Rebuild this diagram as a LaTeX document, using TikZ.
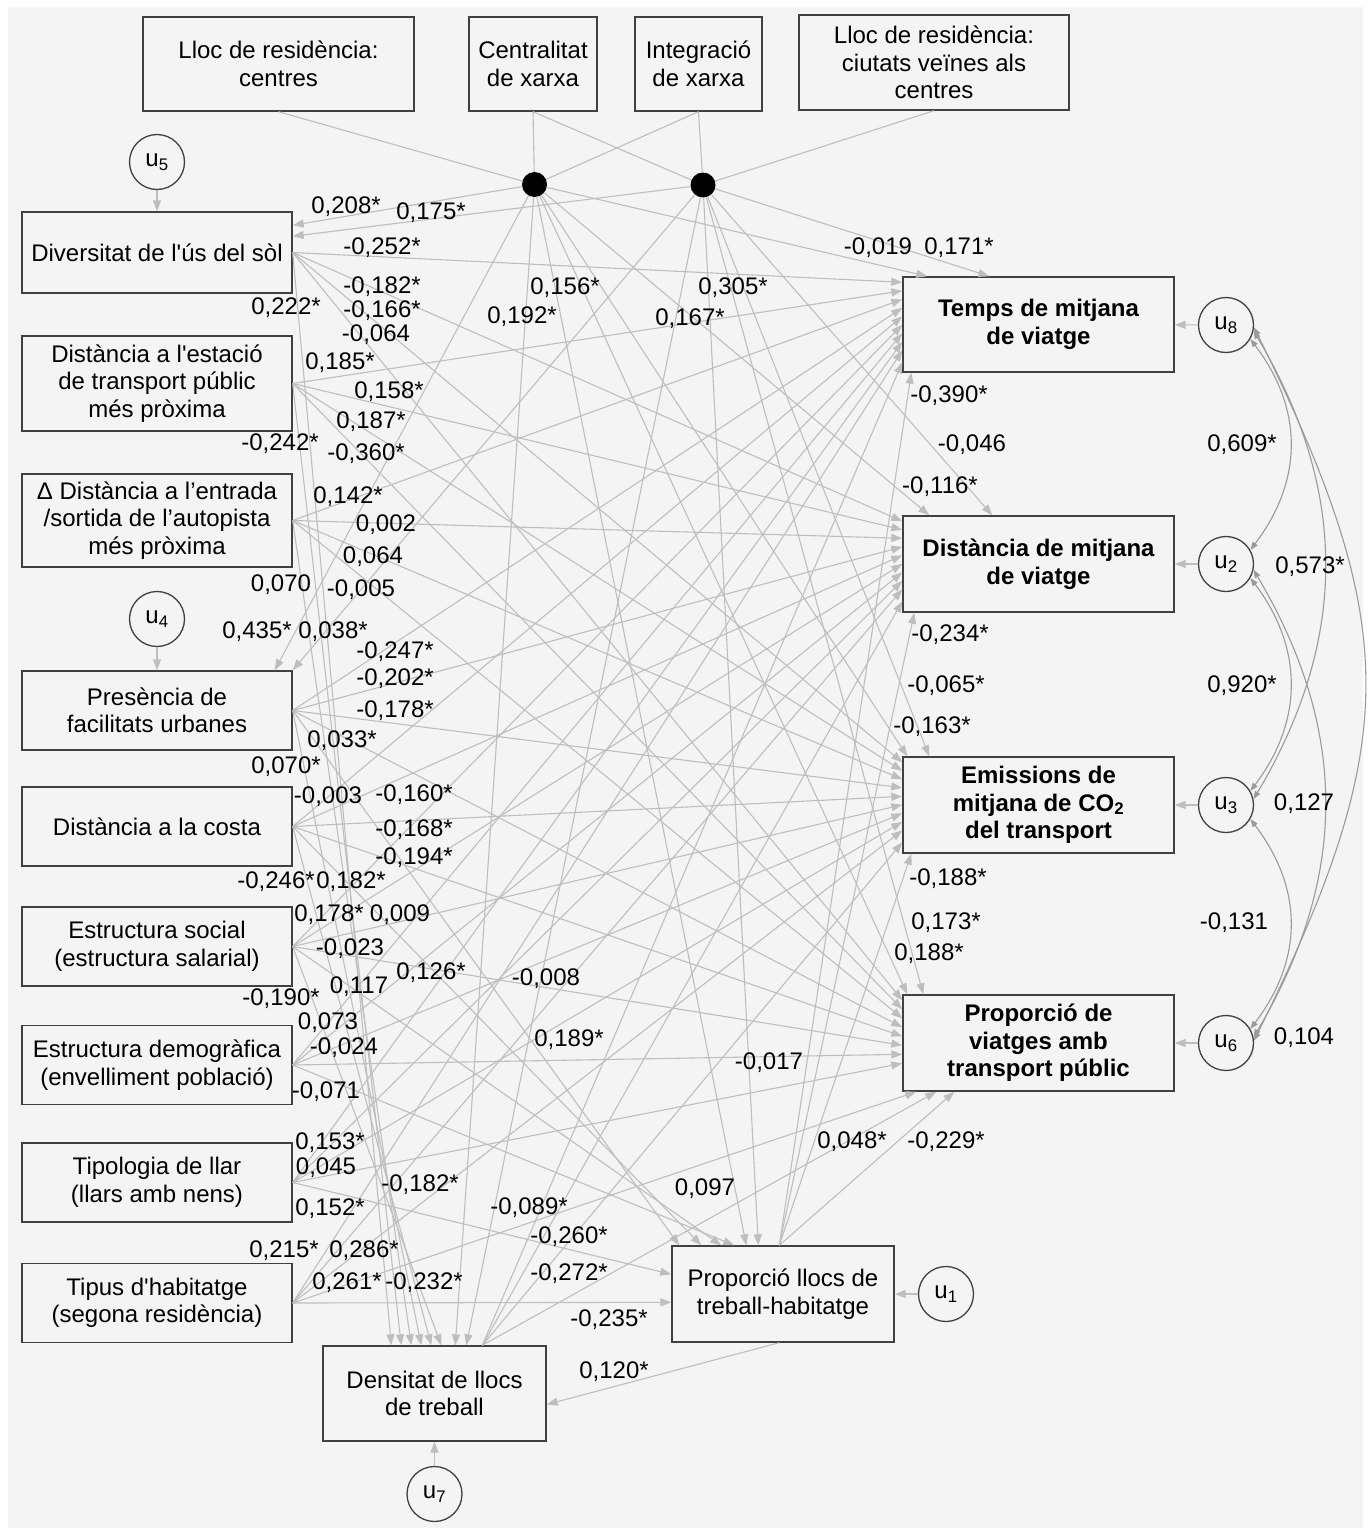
\documentclass[tikz,border=0pt]{standalone}
\usepackage{fontspec}
\setmainfont{Liberation Sans}[Ligatures=TeXOff]
\usetikzlibrary{arrows.meta,calc,shapes.geometric}
\definecolor{bgc}{HTML}{F4F4F4}
\definecolor{edgec}{HTML}{BEBEBE}
\definecolor{boxc}{HTML}{404040}
\definecolor{covc}{HTML}{9A9A9A}
\begin{document}
\begin{tikzpicture}[x=1pt,y=-1pt,
  every node/.style={font=\fontsize{24}{27.5}\selectfont},
  box/.style={draw=boxc,line width=1.4pt,inner sep=0pt,align=center},
  bbox/.style={box,font=\fontsize{24}{27.5}\selectfont\bfseries},
  ucirc/.style={circle,draw=boxc,line width=1.3pt,minimum size=55pt,inner sep=0pt},
  dotn/.style={circle,fill=black,minimum size=25pt,inner sep=0pt},
  plain/.style={draw=edgec,line width=1.1pt},
  link/.style={draw=edgec,line width=1.1pt,-{Triangle[length=11pt,width=8pt]}},
  cov/.style={draw=covc,line width=1.1pt,{Triangle[length=8pt,width=6pt]}-{Triangle[length=8pt,width=6pt]}},
  lab/.style={inner sep=0pt}]
\fill[white] (0,0) rectangle (1369,1528);
\fill[bgc] (8,7) rectangle (1363,1528);
\useasboundingbox (0,0) rectangle (1369,1528);

% top boxes
\node[box,minimum width=271pt,minimum height=94pt] (top1) at (278.5,64) {Lloc de residència:\\centres};
\node[box,minimum width=128pt,minimum height=94pt] (top2) at (533,64) {Centralitat\\de xarxa};
\node[box,minimum width=127pt,minimum height=94pt] (top3) at (698.5,64) {Integració\\de xarxa};
\node[box,minimum width=270pt,minimum height=95pt] (top4) at (934,62.5) {Lloc de residència:\\ciutats veïnes als\\centres};
\node[dotn] (d1) at (534.5,184.5) {};
\node[dotn] (d2) at (703,185) {};

% left column
\node[ucirc] (u5) at (157,162) {u\textsubscript{5}};
\node[box,minimum width=270pt,minimum height=81pt] (div) at (157,252.5) {Diversitat de l'ús del sòl};
\node[box,minimum width=270pt,minimum height=95pt] (est) at (157,383.5) {Distància a l'estació\\de transport públic\\més pròxima};
\node[box,minimum width=270pt,minimum height=93pt] (aut) at (157,520.5) {Δ Distància a l’entrada\\/sortida de l’autopista\\més pròxima};
\node[ucirc] (u4) at (157,619) {u\textsubscript{4}};
\node[box,minimum width=270pt,minimum height=79pt] (pres) at (157,710.5) {Presència de\\facilitats urbanes};
\node[box,minimum width=270pt,minimum height=79pt] (cost) at (157,826.5) {Distància a la costa};
\node[box,minimum width=270pt,minimum height=79pt] (soc) at (157,946.5) {Estructura social\\(estructura salarial)};
\node[box,minimum width=270pt,minimum height=79pt] (dem) at (157,1065) {Estructura demogràfica\\(envelliment població)};
\node[box,minimum width=270pt,minimum height=79pt] (tip) at (157,1182.5) {Tipologia de llar\\(llars amb nens)};
\node[box,minimum width=270pt,minimum height=79pt] (hab) at (157,1303) {Tipus d'habitatge\\(segona residència)};

% bottom
\node[box,minimum width=223pt,minimum height=95pt] (dens) at (434.5,1393.5) {Densitat de llocs\\de treball};
\node[ucirc] (u7) at (434.5,1494) {u\textsubscript{7}};
\node[box,minimum width=222pt,minimum height=96pt] (pl) at (783,1294) {Proporció llocs de\\treball-habitatge};
\node[ucirc] (u1) at (946,1294) {u\textsubscript{1}};

% right column
\node[bbox,minimum width=271pt,minimum height=95pt] (temps) at (1038.5,324.5) {Temps de mitjana\\de viatge};
\node[bbox,minimum width=271pt,minimum height=96pt] (dist) at (1038.5,564) {Distància de mitjana\\de viatge};
\node[bbox,minimum width=271pt,minimum height=96pt] (em) at (1038.5,805) {Emissions de\\mitjana de CO\textsubscript{2}\\del transport};
\node[bbox,minimum width=271pt,minimum height=96pt] (pv) at (1038.5,1043) {Proporció de\\viatges amb\\transport públic};
\node[ucirc] (u8) at (1226,325) {u\textsubscript{8}};
\node[ucirc] (u2) at (1226,564) {u\textsubscript{2}};
\node[ucirc] (u3) at (1226,805) {u\textsubscript{3}};
\node[ucirc] (u6) at (1226,1043) {u\textsubscript{6}};

% top boxes to junctions
\draw[plain] (top1.south) -- (d1);
\draw[plain] (top2.south) -- (d1);
\draw[plain] (top2.south) -- (d2);
\draw[plain] (top3.south) -- (d1);
\draw[plain] (top3.south) -- (d2);
\draw[plain] (top4.south) -- (d2);

% junctions to endogenous variables
\draw[link] (d1) -- ($(div.north east)+(0,14)$);
\draw[link] (d2) -- ($(div.north east)+(0,25)$);
\draw[link] (d1) -- ($(pres.north east)+(-18,0)$);
\draw[link] (d2) -- (pres.north east);
\draw[link] (d1) -- ($(temps.north west)+(25,0)$);
\draw[link] (d2) -- ($(temps.north west)+(87,0)$);
\draw[link] (d1) -- ($(dist.north west)+(27,0)$);
\draw[link] (d2) -- ($(dist.north west)+(90,0)$);
\draw[link] (d1) -- ($(em.north west)+(5,0)$);
\draw[link] (d2) -- ($(em.north west)+(27,0)$);
\draw[link] (d1) -- ($(pv.north west)+(5,0)$);
\draw[link] (d2) -- ($(pv.north west)+(21,0)$);
\draw[link] (d1) -- ($(dens.north west)+(133,0)$);
\draw[link] (d2) -- ($(dens.north west)+(144,0)$);
\draw[link] (d1) -- ($(pl.north west)+(75,0)$);
\draw[link] (d2) -- ($(pl.north west)+(87,0)$);

% left boxes to outcomes
\foreach \s [count=\i from 0] in {div,est,aut,pres,cost,soc,dem,tip,hab}{
  \draw[link] (\s.east) -- ($(temps.north west)+(0,6+8.5*\i)$);
  \draw[link] (\s.east) -- ($(dist.north west)+(0,6+8.5*\i)$);
  \draw[link] (\s.east) -- ($(em.north west)+(0,6+8.5*\i)$);
}
\foreach \s [count=\i from 0] in {div,est,aut,pres,cost,soc,dem,tip}{
  \draw[link] (\s.east) -- ($(pv.north west)+(0,6+9*\i)$);
}
\draw[link] (hab.east) -- ($(pv.south west)+(14,0)$);
\foreach \s [count=\i from 0] in {div,est,aut,pres,cost,soc}{
  \draw[link] (\s.east) -- ($(dens.north west)+(69+10*\i,0)$);
}
\draw[link] (pres.east) -- ($(pl.north west)+(8,0)$);
\draw[link] (cost.east) -- ($(pl.north west)+(30,0)$);
\draw[link] (soc.east) -- ($(pl.north west)+(50,0)$);
\draw[link] (dem.east) -- ($(pl.north west)+(63,0)$);
\draw[link] (tip.east) -- ($(pl.north west)+(0,29)$);
\draw[link] (hab.east) -- ($(pl.north west)+(0,57)$);

% Densitat and Proporcio llocs to outcomes
\coordinate (dsrc) at ($(dens.north west)+(160,0)$);
\draw[link] (dsrc) -- ($(temps.north west)+(0,86)$);
\draw[link] (dsrc) -- ($(dist.north west)+(0,86)$);
\draw[link] (dsrc) -- ($(em.north west)+(0,86)$);
\draw[link] (dsrc) -- ($(pv.south west)+(34,0)$);
\coordinate (psrc) at ($(pl.north west)+(108,0)$);
\draw[link] (psrc) -- ($(temps.south west)+(9,0)$);
\draw[link] (psrc) -- ($(dist.south west)+(12,0)$);
\draw[link] (psrc) -- ($(em.south west)+(9,0)$);
\draw[link] (psrc) -- ($(pv.south west)+(52,0)$);
\draw[link] ($(pl.south west)+(108,0)$) -- ($(dens.east)+(0,11)$);

% disturbances
\draw[link] (u5) -- (div);
\draw[link] (u4) -- (pres);
\draw[link] (u7) -- (dens);
\draw[link] (u1) -- (pl);
\draw[link] (u8) -- (temps);
\draw[link] (u2) -- (dist);
\draw[link] (u3) -- (em);
\draw[link] (u6) -- (pv);

% covariances
\draw[cov] (u8.-30) .. controls +(53,70) and +(53,-70) .. (u2.30);
\draw[cov] (u2.-30) .. controls +(53,70) and +(53,-70) .. (u3.30);
\draw[cov] (u3.-30) .. controls +(53,70) and +(53,-70) .. (u6.30);
\draw[cov] (u8.-12) .. controls +(95,160) and +(95,-160) .. (u3.12);
\draw[cov] (u2.-12) .. controls +(95,160) and +(95,-160) .. (u6.12);
\draw[cov] (u8.-5) .. controls +(148,300) and +(148,-300) .. (u6.5);

% labels
\node[lab] (l01) at (346,207) {0,208*};
\node[lab] (l02) at (431,213) {0,175*};
\node[lab] (l03) at (382,248) {-0,252*};
\node[lab] (l04) at (878,248) {-0,019};
\node[lab] (l05) at (959,248) {0,171*};
\node[lab] (l06) at (382,287) {-0,182*};
\node[lab] (l07) at (565,288) {0,156*};
\node[lab] (l08) at (733,288) {0,305*};
\node[lab] (l09) at (286,308) {0,222*};
\node[lab] (l10) at (382,311) {-0,166*};
\node[lab] (l11) at (522,317) {0,192*};
\node[lab] (l12) at (690,319) {0,167*};
\node[lab] (l13) at (376,335) {-0,064};
\node[lab] (l14) at (340,363) {0,185*};
\node[lab] (l15) at (389,392) {0,158*};
\node[lab] (l16) at (949,396) {-0,390*};
\node[lab] (l17) at (371,422) {0,187*};
\node[lab] (l18) at (280,444) {-0,242*};
\node[lab] (l19) at (366,454) {-0,360*};
\node[lab] (l20) at (972,445) {-0,046};
\node[lab] (l21) at (940,487) {-0,116*};
\node[lab] (l22) at (348,497) {0,142*};
\node[lab] (l23) at (386,525) {0,002};
\node[lab] (l24) at (373,557) {0,064};
\node[lab] (l25) at (281,585) {0,070};
\node[lab] (l26) at (361,590) {-0,005};
\node[lab] (l27) at (1242,445) {0,609*};
\node[lab] (l28) at (1310,567) {0,573*};
\node[lab] (l29) at (257,632) {0,435*};
\node[lab] (l30) at (333,632) {0,038*};
\node[lab] (l31) at (950,635) {-0,234*};
\node[lab] (l32) at (395,652) {-0,247*};
\node[lab] (l33) at (395,679) {-0,202*};
\node[lab] (l34) at (946,686) {-0,065*};
\node[lab] (l35) at (1242,686) {0,920*};
\node[lab] (l36) at (395,711) {-0,178*};
\node[lab] (l37) at (932,727) {-0,163*};
\node[lab] (l38) at (342,741) {0,033*};
\node[lab] (l39) at (286,767) {0,070*};
\node[lab] (l40) at (328,797) {-0,003};
\node[lab] (l41) at (414,795) {-0,160*};
\node[lab] (l42) at (1304,804) {0,127};
\node[lab] (l43) at (414,830) {-0,168*};
\node[lab] (l44) at (414,858) {-0,194*};
\node[lab] (l45) at (276,882) {-0,246*};
\node[lab] (l46) at (351,882) {0,182*};
\node[lab] (l47) at (948,879) {-0,188*};
\node[lab] (l48) at (329,915) {0,178*};
\node[lab] (l49) at (400,915) {0,009};
\node[lab] (l50) at (946,923) {0,173*};
\node[lab] (l51) at (1234,923) {-0,131};
\node[lab] (l52) at (350,949) {-0,023};
\node[lab] (l53) at (929,954) {0,188*};
\node[lab] (l54) at (431,973) {0,126*};
\node[lab] (l55) at (546,979) {-0,008};
\node[lab] (l56) at (359,987) {0,117};
\node[lab] (l57) at (281,999) {-0,190*};
\node[lab] (l58) at (328,1023) {0,073};
\node[lab] (l59) at (569,1040) {0,189*};
\node[lab] (l60) at (344,1048) {-0,024};
\node[lab] (l61) at (1304,1038) {0,104};
\node[lab] (l62) at (769,1063) {-0,017};
\node[lab] (l63) at (326,1092) {-0,071};
\node[lab] (l64) at (852,1142) {0,048*};
\node[lab] (l65) at (946,1142) {-0,229*};
\node[lab] (l66) at (330,1143) {0,153*};
\node[lab] (l67) at (326,1168) {0,045};
\node[lab] (l68) at (420,1185) {-0,182*};
\node[lab] (l69) at (705,1189) {0,097};
\node[lab] (l70) at (330,1209) {0,152*};
\node[lab] (l71) at (529,1208) {-0,089*};
\node[lab] (l72) at (569,1237) {-0,260*};
\node[lab] (l73) at (284,1251) {0,215*};
\node[lab] (l74) at (364,1251) {0,286*};
\node[lab] (l75) at (569,1274) {-0,272*};
\node[lab] (l76) at (347,1283) {0,261*};
\node[lab] (l77) at (424,1283) {-0,232*};
\node[lab] (l78) at (609,1320) {-0,235*};
\node[lab] (l79) at (614,1372) {0,120*};
\end{tikzpicture}
\end{document}
